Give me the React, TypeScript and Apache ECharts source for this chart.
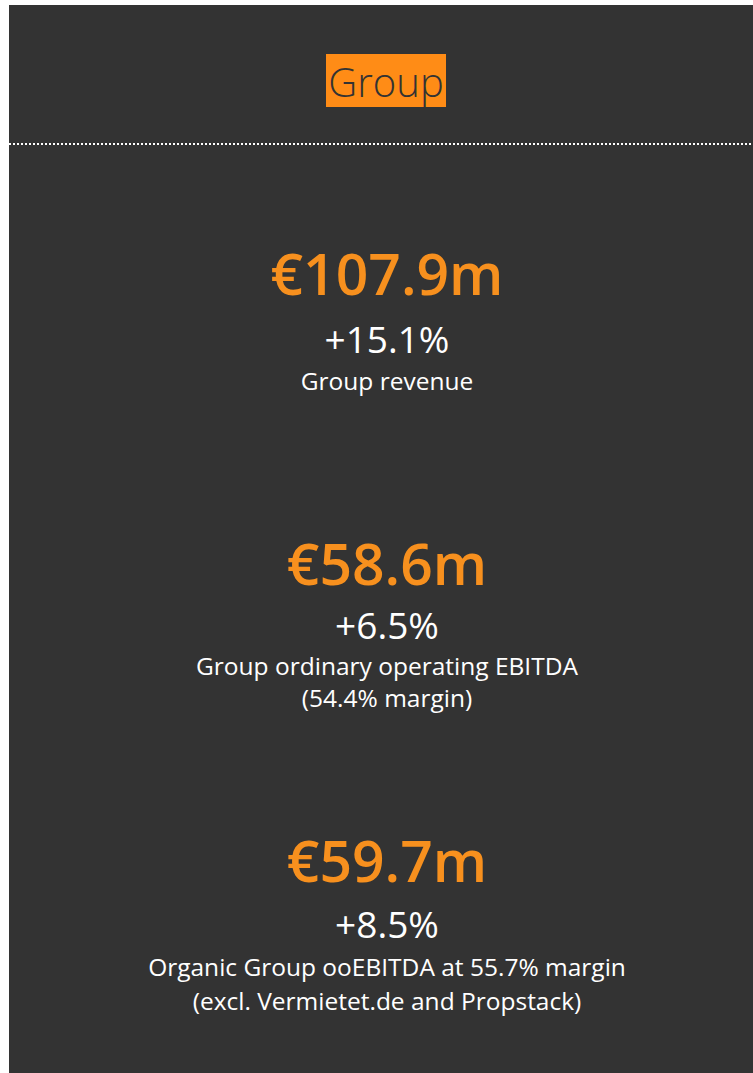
import React, { useEffect, useRef } from "react";
import * as echarts from "echarts";

const title = "Group";
const values = ["€107.9m", "€58.6m", "€59.7m"];
const changes = ["+15.1%", "+6.5%", "+8.5%"];
const labels = [
  ["Group revenue"],
  ["Group ordinary operating EBITDA", "(54.4% margin)"],
  ["Organic Group ooEBITDA at 55.7% margin", "(excl. Vermietet.de and Propstack)"],
];

const valueY = [273, 563, 860];
const changeY = [338, 624, 923];
const labelY = [[380], [665, 697], [966, 1000]];

const ORANGE = "#F7901E";
const BG = "#333333";
const CX = 387;
const FONT = "'Open Sans', sans-serif";

export default function App() {
  const ref = useRef<HTMLDivElement>(null);
  useEffect(() => {
    const chart = echarts.init(ref.current!, null, { renderer: "svg" });
    const elements: any[] = [
      { type: "rect", shape: { x: 9, y: 5, width: 744, height: 1068 }, style: { fill: BG } },
      { type: "rect", shape: { x: 326, y: 54, width: 120, height: 53 }, style: { fill: "#FF8C16" } },
      {
        type: "text",
        x: 386,
        y: 81,
        style: { text: title, fill: BG, font: `300 40px ${FONT}`, align: "center", verticalAlign: "middle" },
      },
      {
        type: "line",
        shape: { x1: 9, y1: 144, x2: 753, y2: 144 },
        style: { stroke: "#ffffff", lineWidth: 2, lineDash: [2, 2] },
      },
    ];
    values.forEach((v, i) => {
      elements.push({
        type: "text",
        x: CX,
        y: valueY[i],
        style: { text: v, fill: ORANGE, font: `600 57px ${FONT}`, align: "center", verticalAlign: "middle" },
      });
      elements.push({
        type: "text",
        x: CX,
        y: changeY[i],
        style: { text: changes[i], fill: "#ffffff", font: `400 37px ${FONT}`, align: "center", verticalAlign: "middle" },
      });
      labels[i].forEach((l, j) => {
        elements.push({
          type: "text",
          x: CX,
          y: labelY[i][j],
          style: { text: l, fill: "#ffffff", font: `400 24.5px ${FONT}`, align: "center", verticalAlign: "middle" },
        });
      });
    });
    chart.setOption({ animation: false, graphic: { elements } });
    return () => chart.dispose();
  }, []);
  return (
    <div
      ref={ref}
      style={{ position: "absolute", left: 0, top: 0, width: 753, height: 1073, background: "#ffffff" }}
    />
  );
}
